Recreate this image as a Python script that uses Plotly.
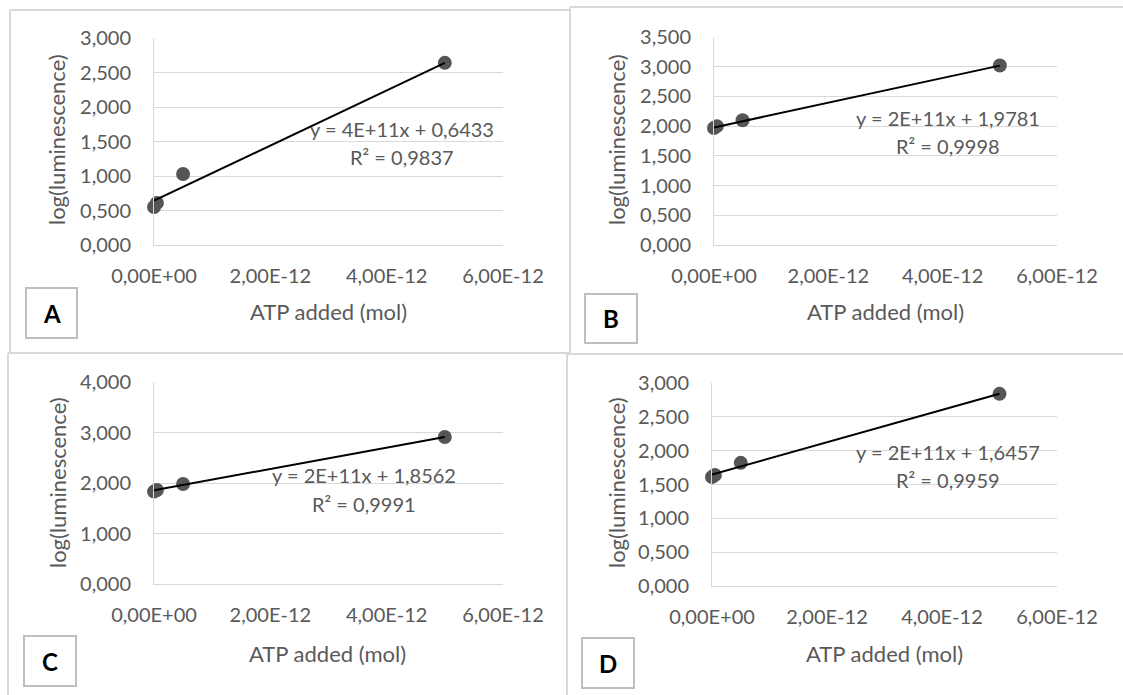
import plotly.graph_objects as go

# ---- data -------------------------------------------------------------
atp_added_mol = [0.0, 5e-14, 5e-13, 5e-12]

log_lum_a = [0.55, 0.61, 1.03, 2.64]
log_lum_b = [1.97, 2.00, 2.10, 3.02]
log_lum_c = [1.83, 1.86, 1.98, 2.91]
log_lum_d = [1.61, 1.64, 1.82, 2.84]

panel_names = ["A", "B", "C", "D"]
fit_slopes = [3.99e11, 2.08e11, 2.11e11, 2.39e11]
fit_intercepts = [0.6433, 1.9781, 1.8562, 1.6457]
fit_r_squared = [0.9837, 0.9998, 0.9991, 0.9959]

y_axis_max = [3.0, 3.5, 4.0, 3.0]
y_axis_step = [0.5, 0.5, 1.0, 0.5]

x_tick_values = [0.0, 2e-12, 4e-12, 6e-12]
x_tick_labels = ["0,00E+00", "2,00E-12", "4,00E-12", "6,00E-12"]

x_axis_title = "ATP added (mol)"
y_axis_title = "log(luminescence)"

series = [log_lum_a, log_lum_b, log_lum_c, log_lum_d]

# ---- layout helpers ---------------------------------------------------
W, H = 1123, 695


def fx(p):
    return p / W


def fy(p):
    return 1 - p / H


FONT = "Lato, 'Open Sans', sans-serif"
GREY_TXT = "#595959"
GRID = "#d9d9d9"
TICK_SIZE = 20
LABEL_SIZE = 20
TITLE_SIZE = 22

# plot-area boxes in pixels: left, right, top, bottom
plot_boxes = [
    (154, 503, 38, 245),
    (714, 1057, 37, 245),
    (154, 503, 382, 584),
    (712, 1057, 383, 586),
]
# trend-label anchor (data coords): x, y for equation and for R²
label_pos = [
    (4.26e-12, 1.68, 1.28),
    (4.10e-12, 2.14, 1.67),
    (3.61e-12, 2.15, 1.58),
    (4.11e-12, 1.98, 1.56),
]
# axis-title centres (pixels): x-title (x, y), y-title (x, y)
title_pos = [
    ((328, 312), (57, 140)),
    ((885, 312), (617, 140)),
    ((327, 653), (57, 483)),
    ((884, 653), (616, 483)),
]
# letter boxes: x0, x1, y0, y1 (pixels)
letter_boxes = [
    (26, 77, 288, 338),
    (585, 637, 294, 343),
    (24, 76, 636, 686),
    (582, 634, 638, 688),
]

fig = go.Figure()
annotations = []
shapes = []

for i in range(4):
    ax = "" if i == 0 else str(i + 1)
    xa, ya = "x" + ax, "y" + ax
    left, right, top, bottom = plot_boxes[i]

    # measured points
    fig.add_trace(go.Scatter(
        x=atp_added_mol, y=series[i], mode="markers",
        marker=dict(size=14, color="#555555"),
        xaxis=xa, yaxis=ya, cliponaxis=False, showlegend=False,
    ))

    # linear trendline from the fitted coefficients
    x_end = max(atp_added_mol)
    fig.add_trace(go.Scatter(
        x=[0.0, x_end],
        y=[fit_intercepts[i], fit_slopes[i] * x_end + fit_intercepts[i]],
        mode="lines", line=dict(color="#000000", width=2),
        xaxis=xa, yaxis=ya, cliponaxis=False, showlegend=False,
    ))

    fig.update_layout(**{
        "xaxis" + ax: dict(
            domain=[fx(left), fx(right)], anchor=ya, automargin=False,
            range=[0, 6e-12], tickvals=x_tick_values, ticktext=x_tick_labels,
            showgrid=False, zeroline=False, showline=True, linecolor=GRID,
            linewidth=1, ticks="", ticklabelstandoff=13,
            tickfont=dict(family=FONT, size=TICK_SIZE, color=GREY_TXT),
        ),
        "yaxis" + ax: dict(
            domain=[fy(bottom), fy(top)], anchor=xa, automargin=False,
            range=[0, y_axis_max[i]], dtick=y_axis_step[i], tick0=0,
            tickformat=".3f", showgrid=True, gridcolor=GRID, gridwidth=1,
            zeroline=False, showline=True, linecolor=GRID, linewidth=1,
            ticks="", ticklabelstandoff=18,
            tickfont=dict(family=FONT, size=TICK_SIZE, color=GREY_TXT),
        ),
    })

    # trendline equation and R² (slope shown to one significant figure)
    lx, ly_eq, ly_r2 = label_pos[i]
    slope_txt = f"{fit_slopes[i]:.0E}"
    eq_txt = f"y = {slope_txt}x + {fit_intercepts[i]:.4f}".replace(".", ",")
    r2_txt = f"R² = {fit_r_squared[i]:.4f}".replace(".", ",")
    for txt, yy in ((eq_txt, ly_eq), (r2_txt, ly_r2)):
        annotations.append(dict(
            x=lx, y=yy, xref=xa, yref=ya, text=txt, showarrow=False,
            xanchor="center", yanchor="middle",
            font=dict(family=FONT, size=LABEL_SIZE, color=GREY_TXT),
        ))

    # axis titles
    (tx, ty), (vx, vy) = title_pos[i]
    annotations.append(dict(
        x=fx(tx), y=fy(ty), xref="paper", yref="paper", text=x_axis_title,
        showarrow=False, xanchor="center", yanchor="middle",
        font=dict(family=FONT, size=TITLE_SIZE, color=GREY_TXT),
    ))
    annotations.append(dict(
        x=fx(vx), y=fy(vy), xref="paper", yref="paper", text=y_axis_title,
        showarrow=False, xanchor="center", yanchor="middle", textangle=-90,
        font=dict(family=FONT, size=TITLE_SIZE, color=GREY_TXT),
    ))

    # panel letter in a framed box
    bx0, bx1, by0, by1 = letter_boxes[i]
    shapes.append(dict(
        type="rect", xref="paper", yref="paper",
        x0=fx(bx0), x1=fx(bx1), y0=fy(by1), y1=fy(by0),
        line=dict(color="#bfbfbf", width=2), fillcolor="white",
    ))
    annotations.append(dict(
        x=fx((bx0 + bx1) / 2), y=fy((by0 + by1) / 2), xref="paper",
        yref="paper", text=f"<b>{panel_names[i]}</b>", showarrow=False,
        xanchor="center", yanchor="middle",
        font=dict(family=FONT, size=24, color="#000000"),
    ))

# frames around the four chart panels
frame_lines = [
    (10, 10, 570, 10), (10, 10, 10, 353), (570, 7, 570, 353),
    (570, 7, 1130, 7), (8, 353, 570, 353), (8, 353, 8, 700),
    (567, 353, 567, 700), (567, 354, 1130, 354),
]
for x0, y0, x1, y1 in frame_lines:
    shapes.append(dict(
        type="line", xref="paper", yref="paper",
        x0=fx(x0), y0=fy(y0), x1=fx(x1), y1=fy(y1),
        line=dict(color="#d9d9d9", width=2),
    ))

fig.update_layout(
    width=W, height=H, margin=dict(l=0, r=0, t=0, b=0, autoexpand=False),
    paper_bgcolor="white", plot_bgcolor="white",
    separators=",.", annotations=annotations, shapes=shapes,
    font=dict(family=FONT),
)

fig.write_html("out.html")
